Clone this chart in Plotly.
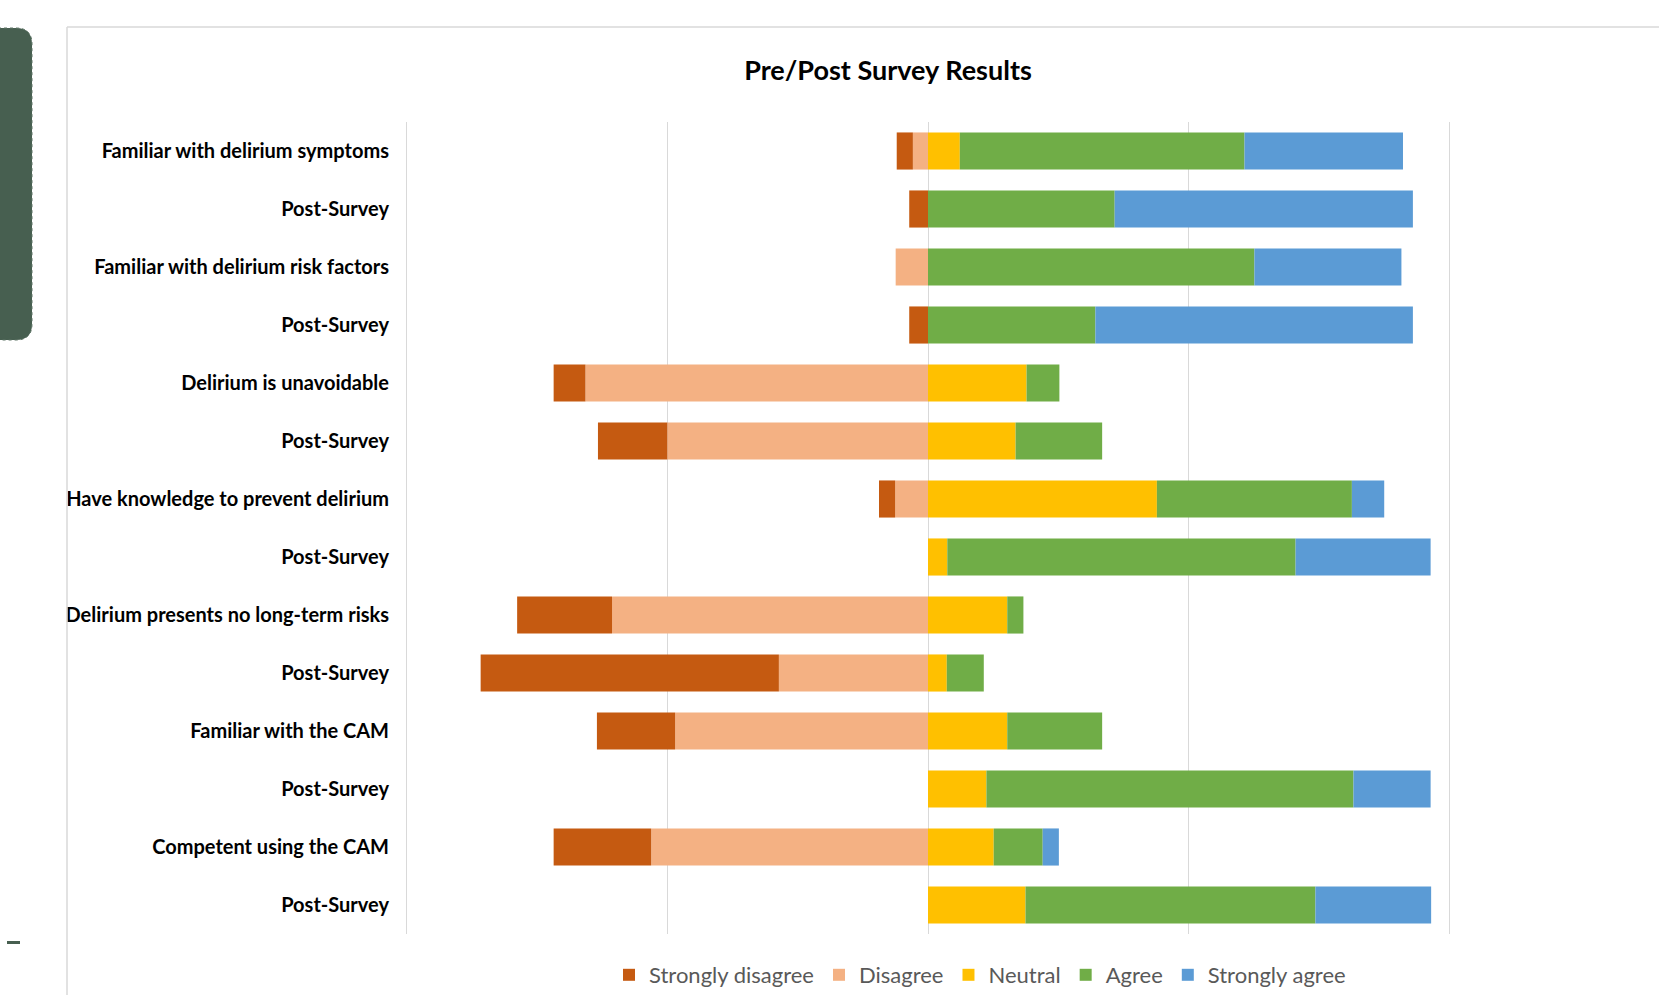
import plotly.graph_objects as go

# ---------------- data (percent of respondents) ----------------
row_labels = [
    "Familiar with delirium symptoms", "Post-Survey",
    "Familiar with delirium risk factors", "Post-Survey",
    "Delirium is unavoidable", "Post-Survey",
    "Have knowledge to prevent delirium", "Post-Survey",
    "Delirium presents no long-term risks", "Post-Survey",
    "Familiar with the CAM", "Post-Survey",
    "Competent using the CAM", "Post-Survey",
]
strongly_disagree = [3.1, 3.6, 0.0, 3.6, 6.1, 13.3, 3.1, 0.0, 18.2, 57.2, 15.0, 0.0, 18.7, 0.0]
disagree          = [2.9, 0.0, 6.2, 0.0, 65.7, 50.0, 6.3, 0.0, 60.6, 28.6, 48.5, 0.0, 53.1, 0.0]
neutral           = [6.1, 0.0, 0.0, 0.0, 18.9, 16.8, 43.9, 3.7, 15.2, 3.6, 15.2, 11.2, 12.6, 18.7]
agree             = [54.6, 35.8, 62.6, 32.1, 6.3, 16.6, 37.4, 66.8, 3.1, 7.1, 18.2, 70.4, 9.4, 55.6]
strongly_agree    = [30.4, 57.2, 28.2, 60.9, 0.0, 0.0, 6.2, 25.9, 0.0, 0.0, 0.0, 14.8, 3.1, 22.2]

series_names = ["Strongly disagree", "Disagree", "Neutral", "Agree", "Strongly agree"]
colors = ["#C55A11", "#F4B183", "#FFC000", "#70AD47", "#5B9BD5"]

positions = list(range(len(row_labels)))

fig = go.Figure()
# negative side: Disagree first so it sits next to zero, Strongly disagree outside
order = [1, 0, 2, 3, 4]
values = [strongly_disagree, disagree, neutral, agree, strongly_agree]
for i in order:
    sign = -1 if i < 2 else 1
    fig.add_trace(go.Bar(
        y=positions,
        x=[sign * v for v in values[i]],
        orientation="h",
        name=series_names[i],
        marker=dict(color=colors[i], line=dict(width=0)),
        legendrank=i + 1,
        hoverinfo="name+x",
    ))

W, H = 1659, 995
L, R, T, B = 404, 207, 122, 61
pw = W - L - R
ph = H - T - B

def px_x(px):
    return (px - L) / pw

def px_y(py):
    return (H - B - py) / ph

shapes = [
    # chart border (left & top visible)
    dict(type="line", xref="paper", yref="paper", x0=px_x(67), x1=px_x(67),
         y0=px_y(1000), y1=px_y(27), line=dict(color="#D9D9D9", width=1.5)),
    dict(type="line", xref="paper", yref="paper", x0=px_x(67), x1=px_x(1665),
         y0=px_y(27), y1=px_y(27), line=dict(color="#D9D9D9", width=1.5)),
    # slide decoration on the far left
    dict(type="path", xref="paper", yref="paper",
         path=(f"M {px_x(-20)},{px_y(28)} L {px_x(16)},{px_y(28)} "
               f"Q {px_x(32)},{px_y(28)} {px_x(32)},{px_y(44)} "
               f"L {px_x(32)},{px_y(324)} Q {px_x(32)},{px_y(340)} {px_x(16)},{px_y(340)} "
               f"L {px_x(-20)},{px_y(340)} Z"),
         fillcolor="#475F50", line=dict(color="#5E7566", width=1, dash="dot")),
    dict(type="rect", xref="paper", yref="paper", x0=px_x(7), x1=px_x(20),
         y0=px_y(944), y1=px_y(941), fillcolor="#475F50", line=dict(width=0)),
]

fig.update_layout(
    width=W, height=H,
    margin=dict(l=L, r=R, t=T, b=B, autoexpand=False),
    paper_bgcolor="white", plot_bgcolor="white",
    barmode="relative", bargap=0.36,
    title=dict(text="<b>Pre/Post Survey Results</b>", x=px_x(888), xref="paper",
               xanchor="center", y=1 - 71 / H, yanchor="middle",
               font=dict(family="Lato, Roboto, sans-serif", size=27, color="#000000")),
    xaxis=dict(range=[-100.5, 100.5], dtick=50, tick0=0, showticklabels=False,
               showgrid=True, gridcolor="#D9D9D9", gridwidth=1,
               zeroline=True, zerolinecolor="#D9D9D9", zerolinewidth=1,
               showline=False, fixedrange=True),
    yaxis=dict(tickvals=positions, ticktext=[f"<b>{t}</b>" for t in row_labels],
               autorange="reversed", showgrid=False, zeroline=False, showline=False,
               ticks="", ticklabelstandoff=14,
               tickfont=dict(family="Lato, Roboto, sans-serif", size=20, color="#000000")),
    legend=dict(orientation="h", x=px_x(980), xanchor="center", y=px_y(975),
                yanchor="middle", font=dict(family="Lato, Roboto, sans-serif", size=22,
                                             color="#595959"),
                itemwidth=30, traceorder="normal"),
    shapes=shapes,
    showlegend=True,
)

fig.write_html("out.html")
